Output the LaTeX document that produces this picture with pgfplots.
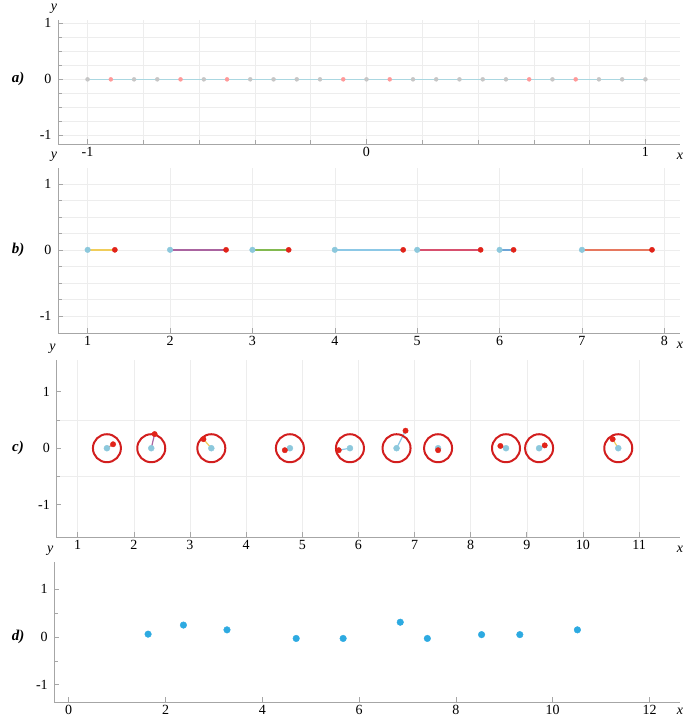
\documentclass[border=0pt]{standalone}
\usepackage{pgfplots}
\pgfplotsset{compat=1.18}
\usepackage{fontspec}
\setmainfont{Liberation Serif}

\definecolor{byel}{RGB}{240,205,90}
\definecolor{bpur}{RGB}{170,100,160}
\definecolor{bgrn}{RGB}{130,185,80}
\definecolor{bblu}{RGB}{140,200,230}
\definecolor{bmag}{RGB}{215,80,110}
\definecolor{bblu2}{RGB}{110,165,215}
\definecolor{bora}{RGB}{230,120,95}
\definecolor{mcyan}{RGB}{140,200,220}
\definecolor{mred}{RGB}{225,35,25}
\definecolor{dblue}{RGB}{45,170,225}
\definecolor{cred}{RGB}{210,30,30}
\definecolor{aline}{RGB}{170,215,225}

\pgfplotsset{
  panel/.style={
    scale only axis, anchor=south west,
    axis x line=bottom, axis y line=left,
    axis line style={-, draw=gray!70, line width=0.9pt},
    tick style={gray!70, line width=0.6pt},
    major tick length=5pt, minor tick length=4pt,
    tick align=inside,
    grid style={gray!14, line width=0.5pt},
    minor grid style={gray!14, line width=0.5pt},
    tick label style={font=\fontsize{14}{14}\selectfont},
    yticklabel style={xshift=-3pt},
    /pgf/number format/assume math mode=true,
    every axis x label/.style={at={(rel axis cs:1,0)}, anchor=center, yshift=-12pt, font=\fontsize{14}{14}\selectfont\itshape},
    every axis y label/.style={at={(rel axis cs:0,1)}, anchor=center, yshift=11pt, xshift=-4pt, rotate=0, font=\fontsize{14}{14}\selectfont\itshape},
    xlabel={x}, ylabel={y},
    clip=false,
  },
  seg/.style={draw=#1, line width=1.6pt, mark=none},
}

\begin{document}
\begin{tikzpicture}
\useasboundingbox (0,0) rectangle (694pt,717pt);

% ---------------- a) ----------------
\begin{axis}[panel, at={(58pt,573pt)}, width=622pt, height=124pt,
  xmin=-1.106, xmax=1.124, ymin=-1.155, ymax=1.06,
  xtick={-1,0,1}, minor xtick={-0.8,-0.6,-0.4,-0.2,0.2,0.4,0.6,0.8},
  ytick={-1,0,1}, minor ytick={-0.75,-0.5,-0.25,0.25,0.5,0.75},
  grid=both]
\addplot[seg=aline, line width=1.2pt] coordinates {
(-1,0) (-0.9167,0) (-0.8333,0) (-0.75,0) (-0.6667,0) (-0.5833,0) (-0.5,0)
(-0.4167,0) (-0.3333,0) (-0.25,0) (-0.1667,0) (-0.0833,0) (0,0) (0.0833,0)
(0.1667,0) (0.25,0) (0.3333,0) (0.4167,0) (0.5,0) (0.5833,0) (0.6667,0)
(0.75,0) (0.8333,0) (0.9167,0) (1,0)};
\addplot[only marks, mark=*, mark size=2pt, color=gray!45] coordinates {
(-1,0) (-0.8333,0) (-0.75,0) (-0.5833,0)
(-0.4167,0) (-0.3333,0) (-0.25,0) (-0.1667,0) (0,0)
(0.1667,0) (0.25,0) (0.3333,0) (0.4167,0) (0.5,0) (0.6667,0)
(0.8333,0) (0.9167,0) (1,0)};
\addplot[only marks, mark=*, mark size=2pt, color=red!40] coordinates {
(-0.9167,0) (-0.6667,0) (-0.5,0) (-0.0833,0) (0.0833,0) (0.5833,0) (0.75,0)};
\end{axis}

% ---------------- b) ----------------
\begin{axis}[panel, at={(58pt,384pt)}, width=622pt, height=165pt,
  xmin=0.64, xmax=8.19, ymin=-1.26, ymax=1.24,
  xtick={1,2,3,4,5,6,7,8},
  ytick={-1,0,1}, minor ytick={-0.75,-0.5,-0.25,0.25,0.5,0.75},
  grid=both]
\addplot[seg=byel] coordinates {(1,0) (1.33,0)};
\addplot[seg=bpur] coordinates {(2,0) (2.68,0)};
\addplot[seg=bgrn] coordinates {(3,0) (3.44,0)};
\addplot[seg=bblu] coordinates {(4,0) (4.83,0)};
\addplot[seg=bmag] coordinates {(5,0) (5.77,0)};
\addplot[seg=bblu2] coordinates {(6,0) (6.17,0)};
\addplot[seg=bora] coordinates {(7,0) (7.85,0)};
\addplot[only marks, mark=*, mark size=2.8pt, color=mcyan] coordinates {
(1,0) (2,0) (3,0) (4,0) (5,0) (6,0) (7,0)};
\addplot[only marks, mark=*, mark size=2.6pt, color=mred] coordinates {
(1.33,0) (2.68,0) (3.44,0) (4.83,0) (5.77,0) (6.17,0) (7.85,0)};
\end{axis}

% ---------------- c) ----------------
\begin{axis}[panel, at={(56.4pt,180pt)}, width=623.6pt, height=177pt,
  xmin=0.62, xmax=11.73, ymin=-1.57, ymax=1.56,
  xtick={1,2,3,4,5,6,7,8,9,10,11},
  ytick={-1,0,1}, minor ytick={-0.5,0.5},
  xmajorgrids=true, yminorgrids=true]
\addplot[only marks, mark=o, mark size=14pt, mark options={line width=2pt}, color=cred] coordinates {
(1.52,0) (2.31,0) (3.38,0) (4.78,0) (5.85,0) (6.68,0) (7.42,0) (8.63,0) (9.22,0) (10.63,0)};
\addplot[seg=bora, line width=1.2pt] coordinates {(1.52,0) (1.63,0.07)};
\addplot[seg=bpur, line width=1.2pt] coordinates {(2.31,0) (2.37,0.25)};
\addplot[seg=byel, line width=1.2pt] coordinates {(3.38,0) (3.24,0.16)};
\addplot[seg=bmag, line width=1.2pt] coordinates {(4.78,0) (4.69,-0.035)};
\addplot[seg=bblu, line width=1.2pt] coordinates {(5.85,0) (5.65,-0.035)};
\addplot[seg=bblu, line width=1.2pt] coordinates {(6.68,0) (6.84,0.31)};
\addplot[seg=bmag, line width=1.2pt] coordinates {(7.42,0) (7.42,-0.035)};
\addplot[seg=bora, line width=1.2pt] coordinates {(8.63,0) (8.53,0.04)};
\addplot[seg=bblu, line width=1.2pt] coordinates {(9.22,0) (9.32,0.05)};
\addplot[seg=byel, line width=1.2pt] coordinates {(10.63,0) (10.53,0.16)};
\addplot[only marks, mark=*, mark size=3pt, color=mcyan] coordinates {
(1.52,0) (2.31,0) (3.38,0) (4.78,0) (5.85,0) (6.68,0) (7.42,0) (8.63,0) (9.22,0) (10.63,0)};
\addplot[only marks, mark=*, mark size=2.7pt, color=mred] coordinates {
(1.63,0.07) (2.37,0.25) (3.24,0.16) (4.69,-0.035) (5.65,-0.035)
(6.84,0.31) (7.42,-0.035) (8.53,0.04) (9.32,0.05) (10.53,0.16)};
\end{axis}

% ---------------- d) ----------------
\begin{axis}[panel, at={(54.2pt,15pt)}, width=625.8pt, height=140pt,
  xmin=-0.30, xmax=12.63, ymin=-1.36, ymax=1.57,
  xtick={0,2,4,6,8,10,12},
  ytick={-1,0,1}, minor ytick={-0.5,0.5},
  every axis x label/.append style={yshift=3pt}]
\addplot[only marks, mark=*, mark size=3.3pt, color=dblue] coordinates {
(1.64,0.06) (2.37,0.25) (3.27,0.15) (4.70,-0.03) (5.67,-0.03)
(6.85,0.31) (7.41,-0.03) (8.53,0.05) (9.32,0.05) (10.51,0.15)};
\end{axis}

\node[font=\fontsize{15}{15}\selectfont\bfseries\itshape] at (18pt,638pt) {a)};
\node[font=\fontsize{15}{15}\selectfont\bfseries\itshape] at (18pt,467pt) {b)};
\node[font=\fontsize{15}{15}\selectfont\bfseries\itshape] at (18pt,269pt) {c)};
\node[font=\fontsize{15}{15}\selectfont\bfseries\itshape] at (18pt,80pt) {d)};
\end{tikzpicture}
\end{document}
